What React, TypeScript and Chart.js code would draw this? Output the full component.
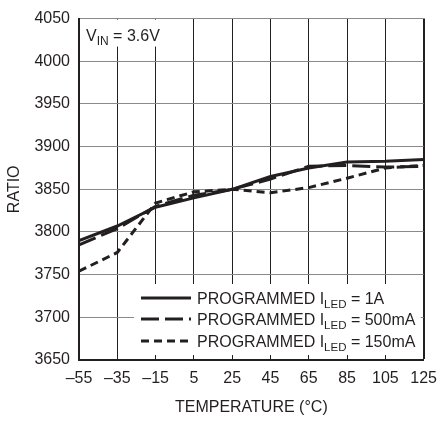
import React, { useEffect, useRef } from "react";
import { Chart, registerables } from "chart.js";

Chart.register(...registerables);

const temperatures = [-55, -35, -15, 5, 25, 45, 65, 85, 105, 125];
const ratio1A = [3790, 3807, 3829, 3840, 3850, 3865, 3875, 3882, 3883, 3885];
const ratio500mA = [3785, 3804, 3830, 3843, 3850, 3862, 3877, 3878, 3876, 3877];
const ratio150mA = [3754, 3776, 3834, 3847, 3850, 3846, 3852, 3863, 3875, 3878];

const seriesNames = ["1A", "500mA", "150mA"];
const xTicks = [-55, -35, -15, 5, 25, 45, 65, 85, 105, 125];
const yTicks = [3650, 3700, 3750, 3800, 3850, 3900, 3950, 4000, 4050];

const INK = "#231f20";
const FONT = "'Liberation Sans', Arial, sans-serif";
const DASHES: number[][] = [[], [18, 6], [8, 5]];

const toPoints = (vals: number[]) => temperatures.map((t, i) => ({ x: t, y: vals[i] }));

const annotationPlugin = {
  id: "annotations",
  afterDatasetsDraw(chart: any) {
    const { ctx, chartArea } = chart;
    const L = chartArea.left;
    const R = chartArea.right;
    const B = chartArea.bottom;
    const T = chartArea.top;
    ctx.save();
    // VIN box
    ctx.fillStyle = "#ffffff";
    ctx.fillRect(L + 1, T + 1, 90, 27);
    ctx.fillStyle = INK;
    ctx.textBaseline = "alphabetic";
    ctx.textAlign = "left";
    let x = L + 7;
    const y0 = T + 22;
    ctx.font = `16px ${FONT}`;
    ctx.fillText("V", x, y0);
    x += ctx.measureText("V").width;
    ctx.font = `12px ${FONT}`;
    ctx.fillText("IN", x, y0 + 4);
    x += ctx.measureText("IN").width;
    ctx.font = `16px ${FONT}`;
    ctx.fillText(" = 3.6V", x, y0);

    // legend box
    const bx = L + 55;
    const by = B - 76;
    ctx.fillStyle = "#ffffff";
    ctx.fillRect(bx, by, R - 3 - bx, 71);
    const rows = [B - 62, B - 41, B - 19];
    rows.forEach((ry, i) => {
      ctx.strokeStyle = INK;
      ctx.lineWidth = 3;
      ctx.setLineDash(DASHES[i]);
      ctx.beginPath();
      ctx.moveTo(L + 62, ry);
      ctx.lineTo(L + 112, ry);
      ctx.stroke();
      ctx.setLineDash([]);
      ctx.fillStyle = INK;
      let tx = L + 118;
      const ty = ry + 6;
      ctx.font = `16px ${FONT}`;
      ctx.fillText("PROGRAMMED I", tx, ty);
      tx += ctx.measureText("PROGRAMMED I").width;
      ctx.font = `11.5px ${FONT}`;
      ctx.fillText("LED", tx, ty + 4);
      tx += ctx.measureText("LED").width;
      ctx.font = `16px ${FONT}`;
      ctx.fillText(" = " + seriesNames[i], tx, ty);
    });
    ctx.restore();
  },
};

export default function App() {
  const ref = useRef<HTMLCanvasElement | null>(null);
  useEffect(() => {
    if (!ref.current) return;
    const datasets = [ratio1A, ratio500mA, ratio150mA].map((vals, i) => ({
      label: seriesNames[i],
      data: toPoints(vals),
      borderColor: INK,
      borderWidth: 3,
      borderDash: DASHES[i],
      pointRadius: 0,
      tension: 0,
      fill: false,
    }));
    const chart = new Chart(ref.current, {
      type: "line",
      data: { datasets },
      options: {
        animation: false,
        responsive: false,
        devicePixelRatio: 1,
        layout: { padding: { top: 9, right: 16, left: 0, bottom: 0 } },
        plugins: { legend: { display: false }, tooltip: { enabled: false } },
        font: { family: FONT },
        scales: {
          x: {
            type: "linear",
            min: -55,
            max: 125,
            afterBuildTicks: (s: any) => {
              s.ticks = xTicks.map((v) => ({ value: v }));
            },
            afterFit: (s: any) => {
              s.height = 61;
            },
            ticks: {
              color: INK,
              font: { family: FONT, size: 16 },
              padding: 9,
              maxRotation: 0,
              autoSkip: false,
              callback: (v: any) => String(v).replace("-", "\u2013"),
            },
            grid: {
              drawTicks: false,
              color: INK,
              lineWidth: (c: any) => (c.index === xTicks.length - 1 ? 2 : 1),
            },
            border: { display: true, color: INK, width: 2 },
            title: {
              display: true,
              text: "TEMPERATURE (°C)",
              color: INK,
              font: { family: FONT, size: 16 },
              padding: { top: 0, bottom: 4 },
            },
          },
          y: {
            type: "linear",
            min: 3650,
            max: 4050,
            afterBuildTicks: (s: any) => {
              s.ticks = yTicks.map((v) => ({ value: v }));
            },
            afterFit: (s: any) => {
              s.width = 79;
            },
            ticks: {
              color: INK,
              font: { family: FONT, size: 16 },
              padding: 9,
              autoSkip: false,
              callback: (v: any) => String(v),
            },
            grid: {
              drawTicks: false,
              color: "#8a8a8a",
              lineWidth: 1,
            },
            border: { display: true, color: INK, width: 2 },
            title: {
              display: true,
              text: "RATIO",
              color: INK,
              font: { family: FONT, size: 16 },
              padding: { top: 5, bottom: 0 },
            },
          },
        },
      },
      plugins: [annotationPlugin],
    } as any);
    return () => chart.destroy();
  }, []);
  return (
    <div style={{ position: "absolute", left: 0, top: 0, width: 446, height: 421, background: "#fff" }}>
      <canvas ref={ref} width={446} height={421} style={{ display: "block", width: 446, height: 421 }} />
    </div>
  );
}
